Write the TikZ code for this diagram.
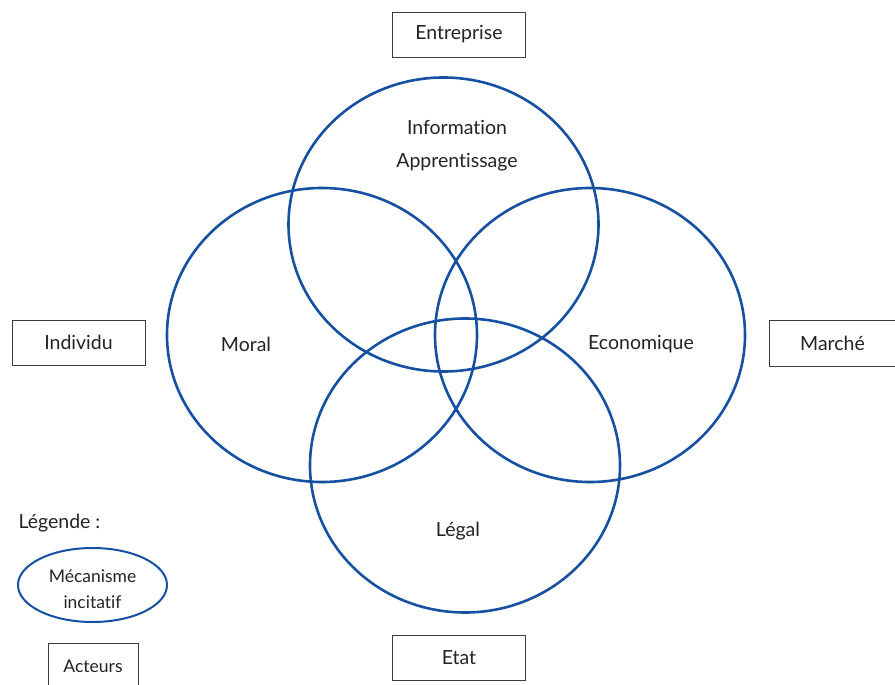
\documentclass[tikz,border=0pt]{standalone}
\usepackage{fontspec}
\setmainfont{Lato}[Ligatures=NoCommon]
\usetikzlibrary{shapes.geometric}
\definecolor{cblue}{RGB}{22,80,162}
\definecolor{bgray}{RGB}{60,60,60}
\definecolor{tgray}{RGB}{35,35,35}
\begin{document}
\begin{tikzpicture}[x=1pt,y=-1pt,
  circ/.style={draw=cblue,line width=2.6pt,ellipse,minimum width=310pt,minimum height=294pt,inner sep=0pt},
  actor/.style={draw=bgray,line width=0.9pt,minimum width=133pt,minimum height=45pt,inner sep=0pt,font=\fontsize{19.5}{22}\selectfont,text=tgray},
  lbl/.style={font=\fontsize{19.5}{33}\selectfont,text=tgray,align=center}]
\useasboundingbox (0,0) rectangle (895,685);
\node[circ] (top) at (443.5,224.5) {};
\node[circ] (left) at (322,335) {};
\node[circ] (right) at (590,335) {};
\node[circ] (bot) at (465,465.5) {};
\node[lbl] (info) at (457,146) {Information\\Apprentissage};
\node[lbl] (moral) at (246,344) {Moral};
\node[lbl] (eco) at (641,344) {Economique};
\node[lbl] (legal) at (458,531) {Légal};
\node[actor] (ent) at (459,34.5) {\raisebox{-1.5pt}{Entreprise}};
\node[actor] (etat) at (459,657.5) {\raisebox{-1.5pt}{Etat}};
\node[actor] (ind) at (78.5,342.5) {\raisebox{-1.5pt}{Individu}};
\node[actor,minimum width=126pt,minimum height=46pt] (mar) at (832.5,343) {\raisebox{-1.5pt}{Marché}};
\node[lbl,anchor=west] (leg) at (15,523) {Légende :};
\node[draw=cblue,line width=2pt,ellipse,minimum width=149pt,minimum height=74pt,inner sep=0pt] (mec) at (92.5,585) {};
\node[font=\fontsize{17.5}{26}\selectfont,text=tgray,align=center] (mectext) at (mec.center) [yshift=-4pt] {Mécanisme\\incitatif};
\node[draw=bgray,line width=0.9pt,minimum width=90pt,minimum height=46pt,inner sep=0pt,
  font=\fontsize{17.5}{20}\selectfont,text=tgray] (act) at (93,666) {Acteurs};
\end{tikzpicture}
\end{document}
